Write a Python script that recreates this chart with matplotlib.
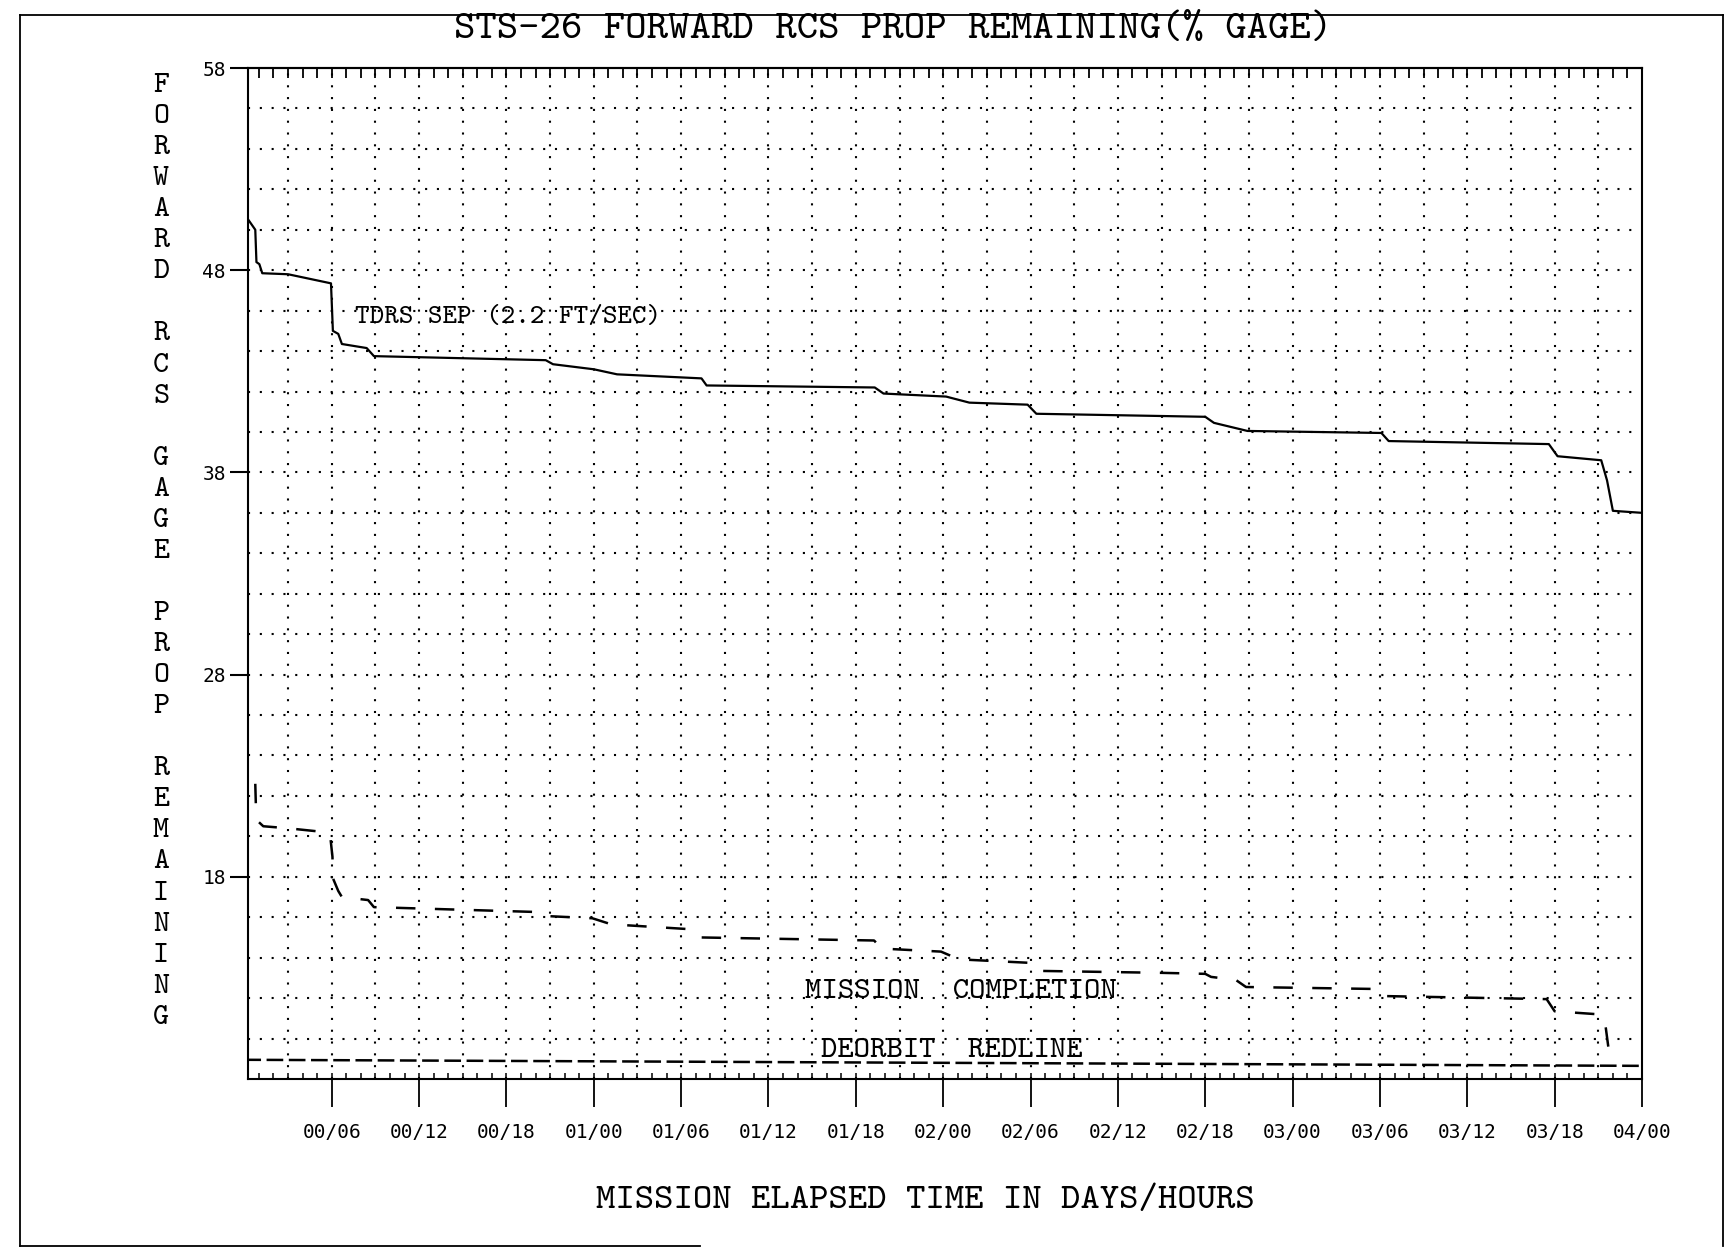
import matplotlib
matplotlib.use("Agg")
import matplotlib.pyplot as plt
from matplotlib.ticker import FixedLocator, MultipleLocator, NullFormatter
from matplotlib.lines import Line2D
import numpy as np

plt.rcParams['lines.scale_dashes'] = False

# Forward RCS propellant remaining (% gage) against mission elapsed time (hours)
met_hours = [0.1, 0.17, 0.75, 0.83, 1.03, 1.23, 3.0, 5.95, 6.08, 6.45, 6.7, 8.4, 8.9,
             20.7, 21.2, 24.0, 25.6, 31.4, 31.75, 43.3, 43.9, 48.2, 49.8,
             53.8, 54.4, 66.0, 66.6, 68.9, 78.1, 78.6, 89.6, 90.2, 93.2,
             93.6, 94.0, 96.0]
prop_remaining = [55.3, 50.6, 50.0, 48.4, 48.3, 47.85, 47.8, 47.35, 45.0, 44.85, 44.35, 44.15, 43.75,
                  43.55, 43.35, 43.1, 42.85, 42.65, 42.3, 42.2, 41.9, 41.75, 41.45,
                  41.35, 40.9, 40.75, 40.45, 40.05, 39.95, 39.55, 39.4, 38.8, 38.6,
                  37.6, 36.1, 36.0]

# Propellant projected at mission completion
completion_hours = [0.75, 0.8, 1.0, 1.3, 3.0, 5.0, 5.9, 6.05, 6.1, 6.45, 6.7, 8.5, 8.9,
                    20.5, 21.0, 23.9, 25.2, 30.8, 31.4, 43.25, 43.8, 47.85, 48.5, 49.6,
                    53.8, 54.3, 63.0, 66.0, 66.4, 68.1, 68.8, 77.9, 78.4, 89.45, 90.0,
                    93.0, 93.3, 93.5, 93.85]
completion_remaining = [22.6, 21.3, 20.7, 20.5, 20.4, 20.25, 20.0, 19.0, 17.9, 17.3, 17.0, 16.85, 16.5,
                        16.25, 16.05, 15.95, 15.65, 15.4, 15.0, 14.85, 14.45, 14.3, 14.1, 13.9,
                        13.75, 13.35, 13.25, 13.2, 13.05, 12.9, 12.55, 12.45, 12.1, 11.95, 11.35,
                        11.2, 11.0, 10.6, 8.7]

# Deorbit redline
redline_hours = [0.0, 96.0]
redline_remaining = [8.95, 8.65]

xtick_hours = [6, 12, 18, 24, 30, 36, 42, 48, 54, 60, 66, 72, 78, 84, 90, 96]
xtick_labels = ["00/06", "00/12", "00/18", "01/00", "01/06", "01/12", "01/18", "02/00",
                "02/06", "02/12", "02/18", "03/00", "03/06", "03/12", "03/18", "04/00"]
ytick_values = [18, 28, 38, 48, 58]

TT = 'cmtt10'
MONO = 'DejaVu Sans Mono'

W_PX, H_PX = 1729, 1249
fig = plt.figure(figsize=(W_PX / 100, H_PX / 100), dpi=100)
fig.patch.set_facecolor('white')

left, right, top, bottom = 248, 1642, 68, 1079
ax = fig.add_axes([left / W_PX, 1 - bottom / H_PX, (right - left) / W_PX, (bottom - top) / H_PX])
ax.set_xlim(0.25, 96)
ax.set_ylim(8, 58)

for s in ax.spines.values():
    s.set_linewidth(1.5)

# dotted grid
dot = (0, (1.5, 7.0))
for v in np.arange(10, 58, 2):
    ax.axhline(v, color='k', lw=1.5, linestyle=dot, dash_capstyle='butt', zorder=1)
for h in np.arange(3, 96, 3):
    ax.axvline(h, color='k', lw=1.5, linestyle=dot, dash_capstyle='butt', zorder=1)

# curves
ax.plot(met_hours, prop_remaining, color='k', lw=1.6, zorder=3)
ax.plot(completion_hours, completion_remaining, color='k', lw=1.8,
        linestyle=(0, (14, 14)), zorder=3)
ax.plot(redline_hours, redline_remaining, color='k', lw=1.8,
        linestyle=(0, (12, 4)), zorder=3)

# bottom axis ticks
ax.xaxis.set_major_locator(FixedLocator(xtick_hours))
ax.set_xticklabels(xtick_labels, fontfamily=MONO, fontsize=14)
ax.xaxis.set_minor_locator(MultipleLocator(1))
ax.xaxis.remove_overlapping_locs = False
ax.tick_params(axis='x', which='major', direction='out', length=20, width=1.3, pad=12)
ax.tick_params(axis='x', which='minor', direction='in', length=4.5, width=1.1)

# top hourly ticks
sec = ax.secondary_xaxis('top')
sec.xaxis.set_major_locator(MultipleLocator(1))
sec.xaxis.set_major_formatter(NullFormatter())
sec.tick_params(direction='in', length=7, width=1.3)
sec.spines['top'].set_linewidth(1.5)

# left axis ticks
ax.yaxis.set_major_locator(FixedLocator(ytick_values))
ax.set_yticklabels([str(v) for v in ytick_values], fontfamily=MONO, fontsize=14)
ax.tick_params(axis='y', which='major', direction='out', length=13, width=1.5, pad=3)

# annotations
ax.text(7.6, 45.65, "TDRS SEP (2.2 FT/SEC)", fontfamily=TT, fontsize=20,
        ha='left', va='center', zorder=4)
ax.text(38.5, 12.3, "MISSION  COMPLETION", fontfamily=TT, fontsize=22.5,
        ha='left', va='center', zorder=4)
ax.text(39.6, 9.38, "DEORBIT  REDLINE", fontfamily=TT, fontsize=22.4,
        ha='left', va='center', zorder=4)

# titles
fig.text(893 / W_PX, 1 - 30 / H_PX, "STS-26 FORWARD RCS PROP REMAINING(% GAGE)",
         fontfamily=TT, fontsize=29.4, ha='center', va='center')
fig.text(925 / W_PX, 1 - 1201 / H_PX, "MISSION ELAPSED TIME IN DAYS/HOURS",
         fontfamily=TT, fontsize=26.6, ha='center', va='center')

ylabel = "FORWARD RCS GAGE PROP REMAINING"
y0, pitch = 86, 31.06
for i, ch in enumerate(ylabel):
    if ch != ' ':
        fig.text(161 / W_PX, 1 - (y0 + i * pitch) / H_PX, ch, fontfamily=TT,
                 fontsize=22, ha='center', va='center')

# page border
bx0, bx1, by0, by1 = 20, 1723, 15, 1246
for xs, ys in [((bx0, bx1), (by0, by0)), ((bx0, bx0), (by0, by1)),
               ((bx1, bx1), (by0, by1)), ((bx0, 700), (by1, by1))]:
    fig.add_artist(Line2D([x / W_PX for x in xs], [1 - y / H_PX for y in ys],
                          color='k', lw=1.3))

fig.savefig("out.png", dpi=100)
